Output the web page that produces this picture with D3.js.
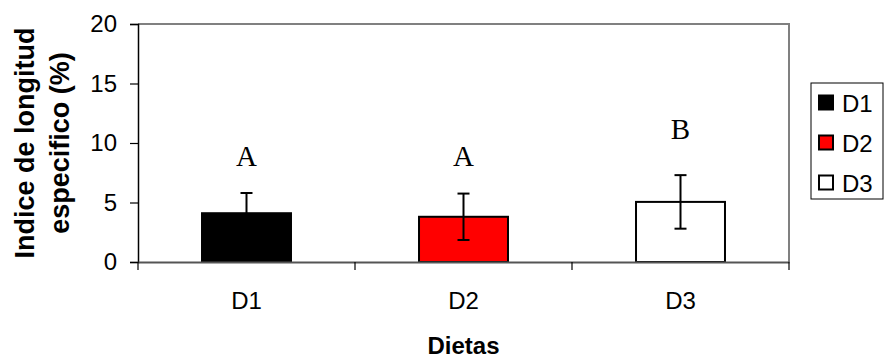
<!doctype html>
<html>
<head>
    <meta charset="UTF-8">
    <title>Dietas</title>
    <script src="https://d3js.org/d3.v7.min.js"></script>
    <style>
        body{ margin:0; background:#fff; }
        text{ font-family: Arial, "Liberation Sans", sans-serif; }
    </style>
</head>
<body>
  <svg id="svg1" width="885" height="360"></svg>

  <script>
    // data
    var categories = ["D1", "D2", "D3"];
    var means = [4.1, 3.8, 5.05];
    var errors = [1.7, 1.95, 2.25];
    var letters = ["A", "A", "B"];
    var letterAt = [8.1, 8.1, 10.3];
    var fills = ["#000000", "#ff0000", "#ffffff"];
    var yTicks = [0, 5, 10, 15, 20];

    // note: "top" is taken by window.top, so plot edges get their own names
    var pLeft = 138, pRight = 789, pTop = 24, pBottom = 262;
    var svg = d3.select("#svg1");

    var x = d3.scaleBand().domain(categories).range([pLeft, pRight])
        .paddingInner(0.59).paddingOuter(0.295);
    var y = d3.scaleLinear().domain([0, 20]).range([pBottom, pTop]);

    // plot area border (top/right gray)
    svg.append("path")
      .attr("d", "M" + pLeft + "," + pTop + "H" + pRight + "V" + pBottom)
      .attr("fill", "none").attr("stroke", "#808080").attr("stroke-width", 2);

    // y axis
    var yAxis = svg.append("g").attr("transform", "translate(" + pLeft + ",0)")
      .call(d3.axisLeft(y).tickValues(yTicks).tickSize(8).tickPadding(13));
    yAxis.select(".domain").attr("stroke", "#000").attr("stroke-width", 1.5);
    yAxis.selectAll(".tick line").attr("stroke", "#000").attr("stroke-width", 1.2);
    yAxis.selectAll("text").attr("font-size", 24).attr("fill", "#000")
      .style("font-family", "Arial, 'Liberation Sans', sans-serif");

    // bars
    svg.selectAll("rect.bar").data(categories).enter().append("rect")
      .attr("class", "bar")
      .attr("x", function(d){ return x(d); })
      .attr("y", function(d, i){ return y(means[i]); })
      .attr("width", x.bandwidth())
      .attr("height", function(d, i){ return pBottom - y(means[i]); })
      .attr("fill", function(d, i){ return fills[i]; })
      .attr("stroke", "#000").attr("stroke-width", 2);

    // error bars
    var eb = svg.selectAll("g.err").data(categories).enter().append("g").attr("class", "err");
    eb.append("line")
      .attr("x1", function(d){ return x(d) + x.bandwidth() / 2; })
      .attr("x2", function(d){ return x(d) + x.bandwidth() / 2; })
      .attr("y1", function(d, i){ return y(means[i] - errors[i]); })
      .attr("y2", function(d, i){ return y(means[i] + errors[i]); });
    eb.append("line")
      .attr("x1", function(d){ return x(d) + x.bandwidth() / 2 - 6; })
      .attr("x2", function(d){ return x(d) + x.bandwidth() / 2 + 6; })
      .attr("y1", function(d, i){ return y(means[i] + errors[i]); })
      .attr("y2", function(d, i){ return y(means[i] + errors[i]); });
    eb.append("line")
      .attr("x1", function(d){ return x(d) + x.bandwidth() / 2 - 6; })
      .attr("x2", function(d){ return x(d) + x.bandwidth() / 2 + 6; })
      .attr("y1", function(d, i){ return y(means[i] - errors[i]); })
      .attr("y2", function(d, i){ return y(means[i] - errors[i]); });
    eb.selectAll("line").attr("stroke", "#000").attr("stroke-width", 2);

    // x axis
    var xAxis = svg.append("g").attr("transform", "translate(0," + pBottom + ")")
      .call(d3.axisBottom(x).tickSize(0).tickPadding(30));
    xAxis.select(".domain").attr("stroke", "#555").attr("stroke-width", 2);
    xAxis.selectAll("text").attr("font-size", 24).attr("fill", "#000")
      .style("font-family", "Arial, 'Liberation Sans', sans-serif");
    // ticks between categories
    var bounds = [pLeft].concat(categories.map(function(d){ return x(d) + x.bandwidth() + x.step() * 0.295; }));
    xAxis.selectAll("line.sep").data(bounds).enter().append("line")
      .attr("class", "sep")
      .attr("x1", function(d){ return d; }).attr("x2", function(d){ return d; })
      .attr("y1", 0).attr("y2", 8)
      .attr("stroke", "#000").attr("stroke-width", 1.2);

    // significance letters
    svg.selectAll("text.sig").data(categories).enter().append("text")
      .attr("class", "sig")
      .attr("x", function(d){ return x(d) + x.bandwidth() / 2; })
      .attr("y", function(d, i){ return y(letterAt[i]); })
      .attr("text-anchor", "middle")
      .attr("font-size", 29)
      .style("font-family", "'Times New Roman', 'Liberation Serif', serif")
      .text(function(d, i){ return letters[i]; });

    // axis titles
    svg.append("text")
      .attr("x", (pLeft + pRight) / 2).attr("y", 354)
      .attr("text-anchor", "middle").attr("font-size", 24).attr("font-weight", "bold")
      .text("Dietas");
    var yt = svg.append("text")
      .attr("transform", "translate(34," + (pTop + pBottom) / 2 + ") rotate(-90)")
      .attr("text-anchor", "middle").attr("font-size", 27).attr("font-weight", "bold");
    yt.append("tspan").attr("x", 0).attr("y", 0).text("Indice de longitud");
    yt.append("tspan").attr("x", 0).attr("y", 35).text("especifico (%)");

    // legend
    var lg = svg.append("g");
    lg.append("rect").attr("x", 811).attr("y", 83).attr("width", 72).attr("height", 116)
      .attr("fill", "#fff").attr("stroke", "#000").attr("stroke-width", 1);
    var items = lg.selectAll("g.item").data(categories).enter().append("g")
      .attr("class", "item")
      .attr("transform", function(d, i){ return "translate(819," + (102.5 + 40 * i) + ")"; });
    items.append("rect").attr("x", 0).attr("y", -7).attr("width", 14).attr("height", 14)
      .attr("fill", function(d, i){ return fills[i]; })
      .attr("stroke", "#000").attr("stroke-width", 2);
    items.append("text").attr("x", 23).attr("y", 9).attr("font-size", 24)
      .text(function(d){ return d; });
  </script>
</body>
</html>
